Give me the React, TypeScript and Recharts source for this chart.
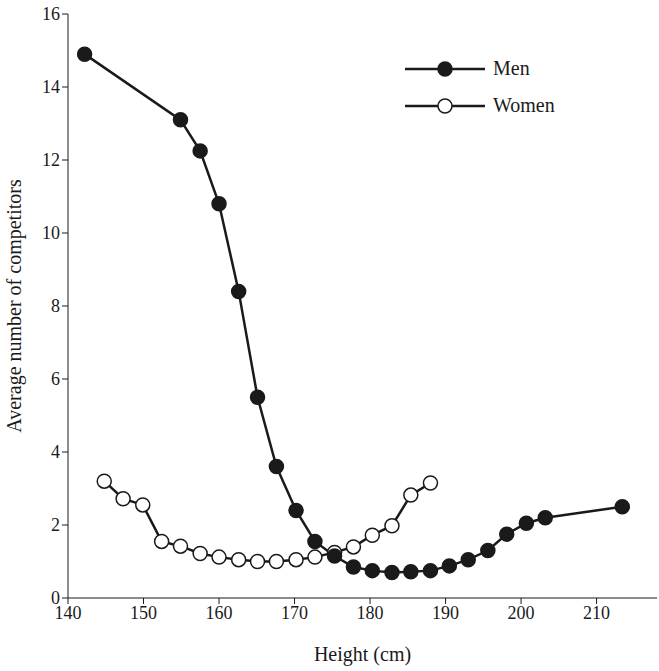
import { LineChart, Line, XAxis, YAxis } from 'recharts';

const menHeights = [142.2, 154.9, 157.5, 160, 162.6, 165.1, 167.6, 170.2, 172.7, 175.3, 177.8, 180.3, 182.9, 185.4, 188, 190.5, 193, 195.6, 198.1, 200.7, 203.2, 213.4];
const menValues = [14.9, 13.1, 12.25, 10.8, 8.4, 5.5, 3.6, 2.4, 1.55, 1.15, 0.85, 0.75, 0.7, 0.72, 0.75, 0.88, 1.05, 1.3, 1.75, 2.05, 2.2, 2.5];
const womenHeights = [144.8, 147.3, 149.9, 152.4, 154.9, 157.5, 160, 162.6, 165.1, 167.6, 170.2, 172.7, 175.3, 177.8, 180.3, 182.9, 185.4, 188];
const womenValues = [3.2, 2.72, 2.55, 1.55, 1.42, 1.22, 1.12, 1.05, 1.0, 1.0, 1.05, 1.12, 1.25, 1.4, 1.72, 1.98, 2.82, 3.15];
const xTicks = [140, 150, 160, 170, 180, 190, 200, 210];
const yTicks = [0, 2, 4, 6, 8, 10, 12, 14, 16];

const men = menHeights.map((h, i) => ({ h, v: menValues[i] }));
const women = womenHeights.map((h, i) => ({ h, v: womenValues[i] }));

const font = '"Liberation Serif", serif';

function LegendBox() {
  const row = (label: string, fill: string) => (
    <div style={{ display: 'flex', alignItems: 'center', height: 37 }}>
      <svg width={80} height={20}>
        <line x1={0} y1={10} x2={80} y2={10} stroke="#1a1a1a" strokeWidth={2.5} />
        <circle cx={40} cy={10} r={7} fill={fill} stroke="#1a1a1a" strokeWidth={1.5} />
      </svg>
      <span style={{ marginLeft: 8, fontSize: 20, fontFamily: font, color: '#1a1a1a' }}>{label}</span>
    </div>
  );
  return (
    <div style={{ position: 'absolute', top: 50, left: 405 }}>
      {row('Men', '#1a1a1a')}
      {row('Women', '#fff')}
    </div>
  );
}

export default function App() {
  return (
    <div style={{ position: 'absolute', left: 0, top: 0, width: 659, height: 671 }}>
      <LineChart width={659} height={671} margin={{ top: 14, right: 2, left: 0, bottom: 0 }}>
        <XAxis
          dataKey="h"
          type="number"
          domain={[140, 218]}
          ticks={xTicks}
          height={73}
          stroke="#1a1a1a"
          tick={{ fill: '#1a1a1a', fontSize: 18, fontFamily: font }}
          label={{ value: 'Height (cm)', position: 'insideBottom', offset: 10, fill: '#1a1a1a', fontSize: 20, fontFamily: font }}
        />
        <XAxis xAxisId="top" orientation="top" type="number" domain={[140, 218]} tick={false} tickLine={false} height={0} stroke="#1a1a1a" />
        <YAxis
          type="number"
          domain={[0, 16]}
          ticks={yTicks}
          width={68}
          stroke="#1a1a1a"
          tick={{ fill: '#1a1a1a', fontSize: 18, fontFamily: font }}
          label={{ value: 'Average number of competitors', angle: -90, position: 'insideLeft', offset: 14, style: { textAnchor: 'middle' }, fill: '#1a1a1a', fontSize: 20, fontFamily: font }}
        />
        <YAxis yAxisId="right" orientation="right" tick={false} tickLine={false} width={0} stroke="#1a1a1a" />
        <Line data={women} dataKey="v" stroke="#1a1a1a" strokeWidth={2.5} isAnimationActive={false}
          dot={{ r: 7, fill: '#fff', stroke: '#1a1a1a', strokeWidth: 1.5 }} />
        <Line data={men} dataKey="v" stroke="#1a1a1a" strokeWidth={2.5} isAnimationActive={false}
          dot={{ r: 7, fill: '#1a1a1a', stroke: '#1a1a1a', strokeWidth: 1.5 }} />
      </LineChart>
      <LegendBox />
    </div>
  );
}
